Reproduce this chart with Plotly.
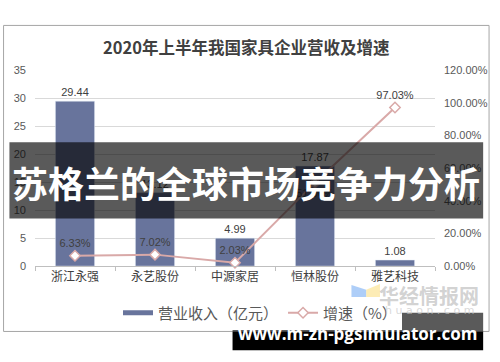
import plotly.graph_objects as go

categories = ["浙江永强", "永艺股份", "中源家居", "恒林股份", "雅艺科技"]
revenue = [29.44, 13.12, 4.99, 17.87, 1.08]
growth = [6.33, 7.02, 2.03, 51.06, 97.03]
growth_labels = ["6.33%", "7.02%", "2.03%", "51.06%", "97.03%"]
left_ticks = [0, 5, 10, 15, 20, 25, 30, 35]
right_ticks = [0, 20, 40, 60, 80, 100, 120]
right_tick_labels = ["0.00%", "20.00%", "40.00%", "60.00%", "80.00%", "100.00%", "120.00%"]

W, H = 500, 362
L, R, T, B = 35, 58, 70, 94
PW, PH = W - L - R, H - T - B

def px(x):
    return (x - L) / PW

def py(y):
    return (H - B - y) / PH

FONT = "Noto Sans CJK SC"
BAR_COLOR = "#68749c"
LINE_COLOR = "#d9a9a8"

fig = go.Figure()
fig.add_trace(go.Bar(
    x=categories, y=revenue, name="营业收入（亿元）",
    marker=dict(color=BAR_COLOR), showlegend=False, legendgroup="rev",
    text=[f"{v:.2f}" for v in revenue], textposition="outside",
    textfont=dict(size=11, color="#404040", family="Liberation Sans"),
    cliponaxis=False, width=0.49,
))
# legend entry for the bars (wide flat swatch like the original)
fig.add_trace(go.Scatter(
    x=[None], y=[None], name="营业收入（亿元）", mode="lines", legendgroup="rev",
    line=dict(color=BAR_COLOR, width=5),
))
fig.add_trace(go.Scatter(
    x=categories, y=growth, name="增速（%）", yaxis="y2",
    mode="lines+markers+text",
    line=dict(color=LINE_COLOR, width=2),
    marker=dict(symbol="diamond", size=8, color="white",
                line=dict(color=LINE_COLOR, width=1.5)),
    text=growth_labels,
    textposition=["top center", "top center", "top center", "bottom center", "top center"],
    textfont=dict(size=11, color="#404040", family="Liberation Sans"),
    cliponaxis=False,
))

shapes = [
    # chart frame
    dict(type="rect", xref="paper", yref="paper", x0=px(3), x1=px(497), y0=py(334), y1=py(25),
         line=dict(color="#a6a6a6", width=1), fillcolor="rgba(0,0,0,0)", layer="below"),
    # logo watermark
    dict(type="path", xref="paper", yref="paper",
         path=f"M {px(357)},{py(287)} L {px(372)},{py(292)} L {px(372)},{py(318)} L {px(357)},{py(313)} Z",
         fillcolor="rgba(140,185,245,0.7)", line=dict(width=0), layer="above"),
    dict(type="path", xref="paper", yref="paper",
         path=f"M {px(372)},{py(292)} L {px(386)},{py(286)} L {px(386)},{py(312)} L {px(372)},{py(318)} Z",
         fillcolor="rgba(252,228,150,0.7)", line=dict(width=0), layer="above"),
    # banner
    dict(type="rect", xref="paper", yref="paper", x0=px(9), x1=px(491), y0=py(220), y1=py(143),
         fillcolor="rgba(5,5,5,0.66)", line=dict(width=0), layer="above"),
    # bottom url box: translucent over the chart, solid below it
    dict(type="rect", xref="paper", yref="paper", x0=px(236), x1=px(491), y0=py(334.5), y1=py(315),
         fillcolor="rgba(5,5,5,0.66)", line=dict(width=0), layer="above"),
    dict(type="rect", xref="paper", yref="paper", x0=px(236), x1=px(491), y0=py(353), y1=py(334.5),
         fillcolor="#000000", line=dict(width=0), layer="above"),
]

annotations = [
    dict(text="<b>2020年上半年我国家具企业营收及增速</b>", xref="paper", yref="paper",
         x=px(250), y=py(47), showarrow=False, font=dict(size=16.5, color="#404040", family=FONT),
         xanchor="center", yanchor="middle"),
    dict(text="<b>华经情报网</b>", xref="paper", yref="paper", x=px(436), y=py(298), showarrow=False,
         font=dict(size=20, color="rgba(185,185,185,0.65)", family=FONT), xanchor="center", yanchor="middle"),
    dict(text="h u a o n . c o m", xref="paper", yref="paper", x=px(436), y=py(313), showarrow=False,
         font=dict(size=11, color="rgba(200,200,200,0.7)", family="DejaVu Sans"), xanchor="center", yanchor="middle"),
    dict(text="<b>苏格兰的全球市场竞争力分析</b>", xref="paper", yref="paper", x=px(250), y=py(183),
         showarrow=False, font=dict(size=36, color="white", family=FONT), xanchor="center", yanchor="middle"),
    dict(text="<b>www.m-zh-pgsimulator.com</b>", xref="paper", yref="paper", x=px(363.5), y=py(336),
         showarrow=False, font=dict(size=17, color="white", family="Open Sans"), xanchor="center", yanchor="middle"),
]

fig.update_layout(
    width=W, height=H, margin=dict(l=L, r=R, t=T, b=B),
    paper_bgcolor="white", plot_bgcolor="white",
    font=dict(family=FONT, color="#595959"),
    bargap=0.51,
    showlegend=True,
    legend=dict(orientation="h", xref="container", yref="container", x=0.52, y=1 - 313 / H,
                xanchor="center", yanchor="middle", font=dict(size=15, color="#595959", family=FONT),
                itemwidth=30, tracegroupgap=0, traceorder="normal"),
    xaxis=dict(showline=True, linecolor="#bfbfbf", ticks="outside", tickson="boundaries",
               ticklen=4, tickcolor="#bfbfbf", tickfont=dict(size=12, color="#404040", family=FONT),
               showgrid=False),
    yaxis=dict(range=[0, 35], tickvals=left_ticks, showgrid=True, gridcolor="#d9d9d9",
               tickfont=dict(size=11, color="#595959", family="Liberation Sans"),
               zeroline=False, ticklabelstandoff=8),
    yaxis2=dict(range=[0, 120], tickvals=right_ticks, ticktext=right_tick_labels, overlaying="y",
                side="right", showgrid=False, zeroline=False,
                tickfont=dict(size=11, color="#595959", family="Liberation Sans"), ticklabelstandoff=8),
    shapes=shapes, annotations=annotations,
)

fig.write_html("out.html")
